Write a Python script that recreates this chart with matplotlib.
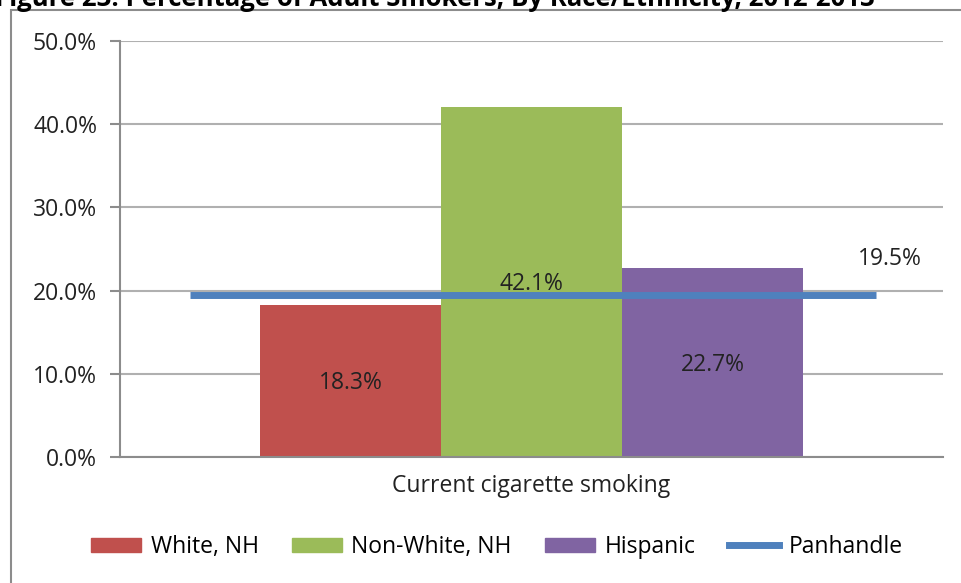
import matplotlib.pyplot as plt
from matplotlib.patches import Rectangle
from matplotlib.lines import Line2D

plt.rcParams['font.family'] = ['Open Sans', 'DejaVu Sans']

# data
category = 'Current cigarette smoking'
groups = ['White, NH', 'Non-White, NH', 'Hispanic']
values = [18.3, 42.1, 22.7]
colors = ['#c0504d', '#9bbb59', '#8064a2']
panhandle = 19.5
yticks = [0, 10, 20, 30, 40, 50]

fig = plt.figure(figsize=(9.61, 5.83), dpi=100)
ax = fig.add_axes([120/961, 1-457/583, (943-120)/961, (457-41)/583])

# chart border (runs off the right and bottom edges)
fig.patches.append(Rectangle((11/961, -0.05), 1.0, 1.05-10/583, transform=fig.transFigure,
                             fill=False, edgecolor='#8c8c8c', linewidth=1.5))

# title is clipped at the top like in the source image
fig.text(-0.005, 1-6/583, 'Figure 23: Percentage of Adult Smokers, By Race/Ethnicity, 2012-2013',
         fontsize=18.5, fontweight='bold', va='baseline', ha='left')

w = 0.22
offsets = [-w, 0, w]
for g, v, c, o in zip(groups, values, colors, offsets):
    ax.bar(o, v, width=w, color=c, zorder=2)
    ax.text(o, v/2 - 0.3, '%.1f%%' % v, ha='center', va='center', fontsize=16.5, color='#222222', zorder=4)

ax.hlines(panhandle, -0.415, 0.418, color='#4f81bd', linewidth=5, zorder=3)
ax.text(0.435, panhandle + 4.3, '%.1f%%' % panhandle, ha='center', va='center', fontsize=16.5, color='#222222')

ax.set_xlim(-0.5, 0.5)
ax.set_ylim(0, 50)
ax.set_yticks(yticks)
ax.set_yticklabels(['%.1f%%' % t for t in yticks], fontsize=16.5, color='#222222')
ax.set_xticks([0])
ax.set_xticklabels([category], fontsize=16.5, color='#222222')
ax.tick_params(axis='x', length=0, pad=12)
ax.tick_params(axis='y', length=7, color='#8c8c8c', width=1.5, pad=9.5)
ax.yaxis.grid(True, color='#b0b0b0', linewidth=1.5, zorder=0)
ax.set_axisbelow(True)
for s in ['top', 'right']:
    ax.spines[s].set_visible(False)
ax.spines['left'].set_color('#8c8c8c')
ax.spines['left'].set_linewidth(1.5)
ax.spines['bottom'].set_color('#8c8c8c')
ax.spines['bottom'].set_linewidth(1.5)

handles = [Rectangle((0, 0), 1, 1, color=c) for c in colors]
handles.append(Line2D([0], [0], color='#4f81bd', linewidth=5))
fig.legend(handles, groups + ['Panhandle'], loc='center', bbox_to_anchor=(0.517, 1-547/583),
           ncol=4, frameon=False, fontsize=16.5, handlelength=2.2, handleheight=0.6,
           columnspacing=1.45, handletextpad=0.4)

fig.savefig('out.png', dpi=100)
